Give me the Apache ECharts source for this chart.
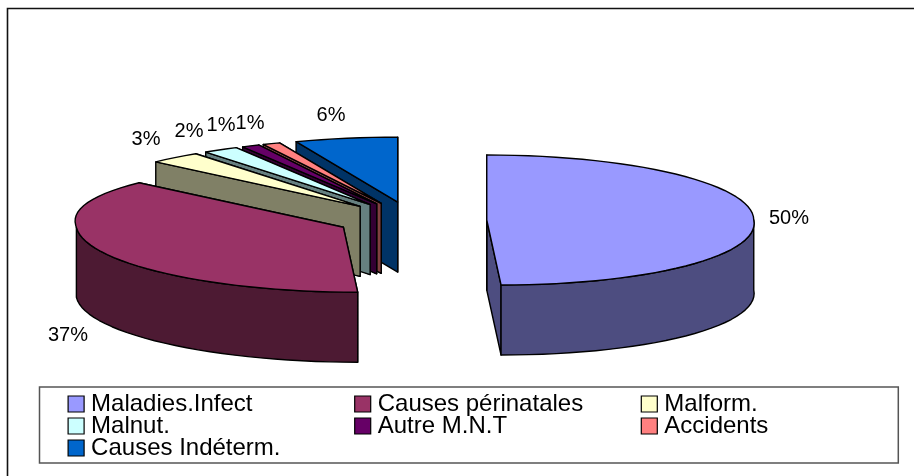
<!DOCTYPE html>
<html>
<head>
<meta charset="utf-8">
<style>html,body{margin:0;padding:0;background:#fff}#c{width:914px;height:476px}</style>
<script src="https://cdn.jsdelivr.net/npm/echarts@6/dist/echarts.min.js"></script>
</head>
<body>
<div id="c"></div>
<script>
// Causes de décès, en pourcentage : camembert éclaté en perspective
const categories = ['Maladies.Infect', 'Causes périnatales', 'Malform.', 'Malnut.', 'Autre M.N.T', 'Accidents', 'Causes Indéterm.'];
const shares = [50, 37, 3, 2, 1, 1, 6];
const topColors = ['#9999FF', '#993366', '#FFFFCC', '#CCFFFF', '#660066', '#FF8080', '#0066CC'];
const wallColors = ['#4D4D80', '#4D1A33', '#808066', '#668080', '#330033', '#804040', '#003366'];
const labelPositions = [[789, 218], [68, 335], [146, 139], [189, 131], [221, 125], [250, 123], [331, 115]];

// Projection of the pie disc
const cx = 412, cy = 220, rx = 267, ry = 65, depth = 70, explode = 0.28, lean = 0.22, backStretch = 0.05;
const total = shares.reduce((a, b) => a + b, 0);
const rad = d => d * Math.PI / 180;

// Offset from a slice apex to a point on the rim; the perspective widens the rear left quarter
function rimOffset(angle, scale) {
  const a = ((angle % 360) + 360) % 360;
  const stretch = a > 270 ? 1 + backStretch * Math.sin(2 * rad(360 - a)) : 1;
  return [Math.sin(rad(a)) * rx * scale * stretch, -Math.cos(rad(a)) * ry * scale];
}

function project(ax, ay, angle) {
  const [dx, dy] = rimOffset(angle, 1);
  // The front half of the disc leans to the right
  return [ax + dx + (dy > 0 ? dy * lean : 0), ay + dy];
}
const drop = p => [p[0], p[1] + depth];

function sliceItem(i) {
  const before = shares.slice(0, i).reduce((a, b) => a + b, 0);
  const start = before / total * 360, end = (before + shares[i]) / total * 360;
  const shift = rimOffset((start + end) / 2, explode);
  const ax = cx + shift[0], ay = cy + shift[1];
  const apex = [ax, ay];

  const arc = [];
  const steps = Math.max(2, Math.ceil((end - start) / 3));
  for (let k = 0; k <= steps; k++) arc.push(project(ax, ay, start + (end - start) * k / steps));

  const frontFrom = Math.max(start, 90), frontTo = Math.min(end, 270);
  const front = [];
  if (frontTo > frontFrom) {
    const n = Math.ceil((frontTo - frontFrom) / 3);
    for (let k = 0; k <= n; k++) front.push(project(ax, ay, frontFrom + (frontTo - frontFrom) * k / n));
  }

  const base = (categories.length - i) * 10;
  const line = { stroke: '#000', lineWidth: 1.4, lineJoin: 'round' };
  const poly = (points, fill, z2) => ({
    type: 'polygon', z2, shape: { points }, style: Object.assign({ fill }, line)
  });
  const first = project(ax, ay, start), last = project(ax, ay, end);
  // Far radial wall first, so the near one covers it
  const children = [
    poly([apex, last, drop(last), drop(apex)], wallColors[i], base),
    poly([apex, first, drop(first), drop(apex)], wallColors[i], base + 1)
  ];
  if (front.length) children.push(poly(front.concat(front.slice().reverse().map(drop)), wallColors[i], base + 2));
  children.push(poly([apex].concat(arc), topColors[i], base + 3));
  children.push({
    type: 'text', z2: 200,
    style: {
      text: shares[i] + '%', x: labelPositions[i][0], y: labelPositions[i][1],
      align: 'center', verticalAlign: 'middle', fill: '#000',
      font: '20px "Liberation Sans", Arial, sans-serif'
    }
  });
  return { type: 'group', children };
}

const chart = echarts.init(document.getElementById('c'), null, { renderer: 'canvas' });
chart.setOption({
  animation: false,
  backgroundColor: '#fff',
  graphic: [{
    type: 'rect', silent: true, z: -1,
    shape: { x: 7.5, y: 8.5, width: 1000, height: 600 },
    style: { fill: '#fff', stroke: '#111', lineWidth: 1.6 }
  }],
  legend: {
    left: 39.5, top: 387, orient: 'horizontal',
    padding: [5, 28, 3, 28],
    itemGap: -2, itemWidth: 16, itemHeight: 16,
    icon: 'rect', selectedMode: false,
    backgroundColor: '#fff', borderColor: '#555', borderWidth: 1.5, borderRadius: 0,
    itemStyle: { borderColor: '#000', borderWidth: 1.2 },
    textStyle: {
      fontFamily: '"Liberation Sans", Arial, sans-serif', fontSize: 24, color: '#000',
      lineHeight: 22, height: 22, width: 265, overflow: 'none', padding: [0, 0, 0, 2]
    },
    data: categories.map((name, i) => ({
      name,
      textStyle: { lineHeight: 22, height: 20, width: (i === 2 || i === 5) ? 206 : 265 }
    }))
  },
  series: categories.map((name, i) => ({
    type: 'custom', name, coordinateSystem: 'none',
    itemStyle: { color: topColors[i] },
    data: [shares[i]],
    renderItem: () => sliceItem(i)
  }))
});
</script>
</body>
</html>
